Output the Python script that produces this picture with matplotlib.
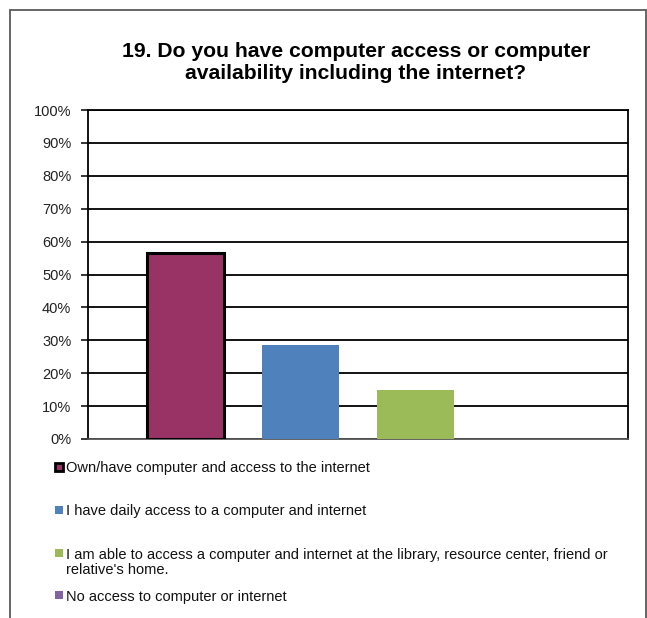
import matplotlib
matplotlib.use("Agg")
import matplotlib.pyplot as plt
from matplotlib.patches import Rectangle
from matplotlib.ticker import MultipleLocator, PercentFormatter

plt.rcParams['font.family'] = ['Liberation Sans', 'DejaVu Sans']

title = "19. Do you have computer access or computer\navailability including the internet?"
series_labels = [
    "Own/have computer and access to the internet",
    "I have daily access to a computer and internet",
    "I am able to access a computer and internet at the library, resource center, friend or\nrelative's home.",
    "No access to computer or internet",
]
series_values = [56.5, 28.6, 14.9, 0.0]
series_colors = ["#993366", "#4F81BD", "#9BBB59", "#8064A2"]
series_edges = ["black", "none", "none", "none"]

W, H = 647, 618
fig = plt.figure(figsize=(W / 100, H / 100), dpi=100)

def fx(px):
    return px / W

def fy(py):
    return 1 - py / H

# chart frame (open at the bottom)
frame = Rectangle((fx(9.5), fy(630)), fx(646) - fx(9.5), fy(9.5) - fy(630),
                  transform=fig.transFigure, fill=False, edgecolor="#5a5a5a",
                  linewidth=1.3, clip_on=False)
fig.patches.append(frame)

ax = fig.add_axes([fx(88), fy(439), fx(628) - fx(88), fy(110) - fy(439)])

for i, (v, c, e) in enumerate(zip(series_values, series_colors, series_edges)):
    ax.bar(i, v, width=0.67, color=c, edgecolor=e,
           linewidth=2.2 if e != "none" else 0, zorder=3)

ax.set_xlim(-0.848, 3.848)
ax.set_ylim(0, 100)
ax.yaxis.set_major_locator(MultipleLocator(10))
ax.yaxis.set_major_formatter(PercentFormatter(decimals=0))
ax.set_xticks([])
ax.grid(axis="y", color="black", linewidth=1.3, zorder=1)
for side in ("left", "right", "top"):
    ax.spines[side].set_color("black")
    ax.spines[side].set_linewidth(1.3)
ax.spines["bottom"].set_color("#555555")
ax.spines["bottom"].set_linewidth(1.3)
ax.tick_params(axis="y", length=5, width=1.1, color="black", pad=7,
               labelsize=10.5, labelcolor="#222222")

fig.text(fx(356), fy(62.5), title, ha="center", va="center",
         fontsize=15.2, fontweight="bold", linespacing=1.22)

# legend entries below the chart; wrapped labels continue 15 px lower
entry_y = [466.7, 510, 553.3, 595]
for lab, c, e, y in zip(series_labels, series_colors, series_edges, entry_y):
    if e != "none":
        sq = Rectangle((fx(55), fy(y + 4)), fx(8), fy(0) - fy(8),
                       transform=fig.transFigure, facecolor=c,
                       edgecolor="black", linewidth=2)
    else:
        sq = Rectangle((fx(55), fy(y + 3.8)), fx(7.6), fy(0) - fy(7.6),
                       transform=fig.transFigure, facecolor=c, linewidth=0)
    fig.patches.append(sq)
    for k, line in enumerate(lab.split("\n")):
        fig.text(fx(66), fy(y + 15 * k), line, ha="left",
                 va="center_baseline", fontsize=10.5, color="#111111")

fig.savefig("out.png", dpi=100)
